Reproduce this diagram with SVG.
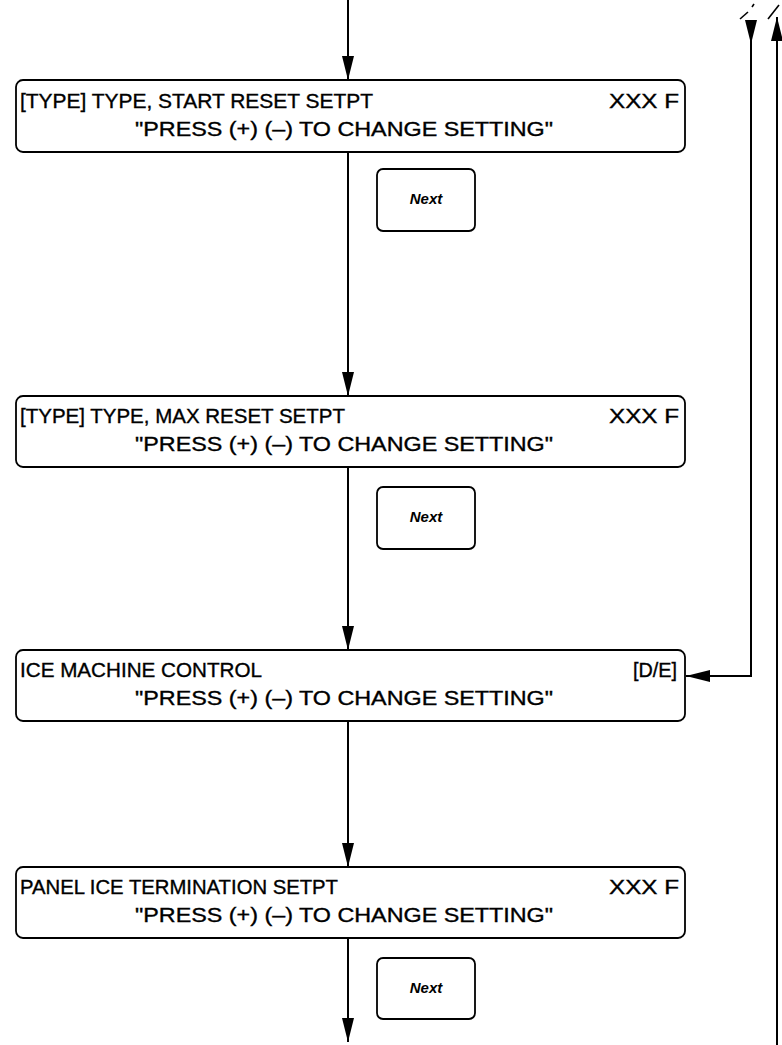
<svg xmlns="http://www.w3.org/2000/svg" width="782" height="1045" viewBox="0 0 782 1045">
<defs>
<marker id="ah" viewBox="0 0 24 12" refX="24" refY="6" markerWidth="24" markerHeight="12" markerUnits="userSpaceOnUse" orient="auto">
<path d="M0,0 L24,6 L0,12 Z" fill="#000"/>
</marker>
<style>
.box{fill:#fff;stroke:#000;stroke-width:1.8}
.btn{fill:#fff;stroke:#000;stroke-width:1.8}
.t{font-family:"Liberation Sans",Arial,sans-serif;font-size:20px;fill:#000;stroke:#000;stroke-width:0.35}
.n{font-family:"Liberation Sans",Arial,sans-serif;font-size:15px;font-weight:bold;font-style:italic;fill:#000}
.c{fill:none;stroke:#000;stroke-width:2}
.m{fill:none;stroke:#000;stroke-width:1.6}
</style>
</defs>
<rect width="782" height="1045" fill="#fff"/>
<g id="connectors">
<line class="c" x1="348" y1="0" x2="348" y2="80" marker-end="url(#ah)"/>
<line class="c" x1="348" y1="152" x2="348" y2="396" marker-end="url(#ah)"/>
<line class="c" x1="348" y1="467" x2="348" y2="650" marker-end="url(#ah)"/>
<line class="c" x1="348" y1="721" x2="348" y2="867" marker-end="url(#ah)"/>
<line class="c" x1="348" y1="938" x2="348" y2="1042" marker-end="url(#ah)"/>
<line class="c" x1="751" y1="20" x2="751" y2="44" marker-end="url(#ah)"/>
<polyline class="c" points="751,44 751,676 686,676" marker-end="url(#ah)"/>
<line class="c" x1="777" y1="1045" x2="777" y2="17" marker-end="url(#ah)"/>
<line class="m" x1="740" y1="19" x2="748" y2="12"/>
<line class="m" x1="752" y1="7" x2="754" y2="4"/>
<line class="m" x1="768" y1="19" x2="779" y2="5"/>
</g>
<g id="node1">
<rect class="box" x="16" y="80" width="669" height="72" rx="7"/>
<text class="t" x="20" y="108" textLength="353" lengthAdjust="spacingAndGlyphs">[TYPE] TYPE, START RESET SETPT</text>
<text class="t" x="609" y="108" textLength="70" lengthAdjust="spacingAndGlyphs">XXX F</text>
<text class="t" x="135" y="136" textLength="418" lengthAdjust="spacingAndGlyphs">"PRESS (+) (–) TO CHANGE SETTING"</text>
</g>
<g id="next1">
<rect class="btn" x="377" y="169" width="98" height="62" rx="6"/>
<text class="n" x="426" y="204" text-anchor="middle">Next</text>
</g>
<g id="node2">
<rect class="box" x="16" y="396" width="669" height="71" rx="7"/>
<text class="t" x="20" y="423" textLength="325" lengthAdjust="spacingAndGlyphs">[TYPE] TYPE, MAX RESET SETPT</text>
<text class="t" x="609" y="423" textLength="70" lengthAdjust="spacingAndGlyphs">XXX F</text>
<text class="t" x="135" y="451" textLength="418" lengthAdjust="spacingAndGlyphs">"PRESS (+) (–) TO CHANGE SETTING"</text>
</g>
<g id="next2">
<rect class="btn" x="377" y="487" width="98" height="62" rx="6"/>
<text class="n" x="426" y="522" text-anchor="middle">Next</text>
</g>
<g id="node3">
<rect class="box" x="16" y="650" width="669" height="71" rx="7"/>
<text class="t" x="20" y="677" textLength="242" lengthAdjust="spacingAndGlyphs">ICE MACHINE CONTROL</text>
<text class="t" x="633" y="677" textLength="44" lengthAdjust="spacingAndGlyphs">[D/E]</text>
<text class="t" x="135" y="705" textLength="418" lengthAdjust="spacingAndGlyphs">"PRESS (+) (–) TO CHANGE SETTING"</text>
</g>
<g id="node4">
<rect class="box" x="16" y="867" width="669" height="71" rx="7"/>
<text class="t" x="20" y="894" textLength="318" lengthAdjust="spacingAndGlyphs">PANEL ICE TERMINATION SETPT</text>
<text class="t" x="609" y="894" textLength="70" lengthAdjust="spacingAndGlyphs">XXX F</text>
<text class="t" x="135" y="922" textLength="418" lengthAdjust="spacingAndGlyphs">"PRESS (+) (–) TO CHANGE SETTING"</text>
</g>
<g id="next3">
<rect class="btn" x="377" y="958" width="98" height="61" rx="6"/>
<text class="n" x="426" y="993" text-anchor="middle">Next</text>
</g>
</svg>
